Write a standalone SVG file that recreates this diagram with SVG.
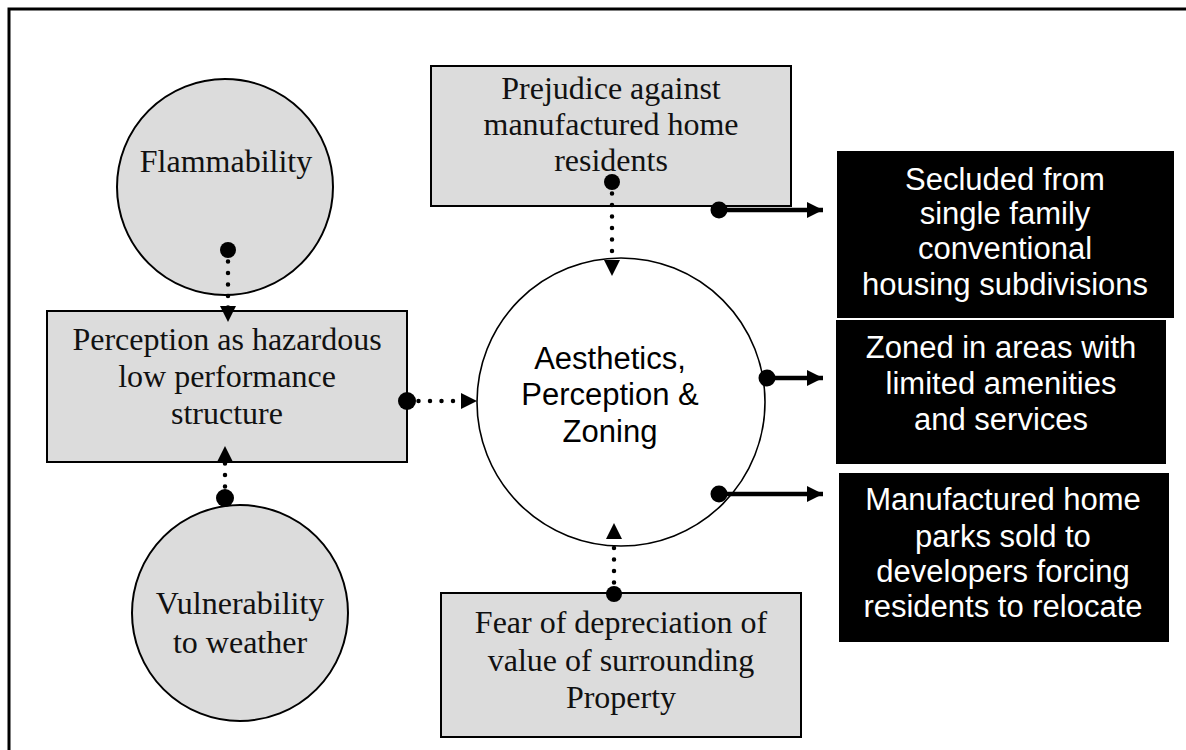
<svg xmlns="http://www.w3.org/2000/svg" width="1186" height="750" viewBox="0 0 1186 750">
<style>
.bg{fill:#ffffff}
.frame{fill:none;stroke:#000;stroke-width:3}
.gray{fill:#dcdcdc;stroke:#000;stroke-width:2}
.white{fill:#fff;stroke:#000;stroke-width:1.6}
.black{fill:#000;stroke:none}
.serif{font-family:"Liberation Serif","Times New Roman",serif;font-size:32px;fill:#111;text-anchor:middle}
.sans{font-family:"Liberation Sans",Arial,sans-serif;font-size:31px;fill:#000;text-anchor:middle}
.sansw{font-family:"Liberation Sans",Arial,sans-serif;font-size:31px;fill:#fff;text-anchor:middle}
.dotted{fill:none;stroke:#000;stroke-width:4.5;stroke-linecap:round;stroke-dasharray:0 11.5}
.solid{fill:none;stroke:#000;stroke-width:4.5}
</style>
<defs>
<marker id="arr" viewBox="0 0 16 16" refX="16" refY="8" markerWidth="16" markerHeight="16" markerUnits="userSpaceOnUse" orient="auto"><path d="M0,0 L16,8 L0,16 z" fill="#000"/></marker>
</defs>
<rect class="bg" x="0" y="0" width="1186" height="750"/>
<rect class="frame" x="9" y="9" width="1200" height="800"/>

<g id="flammability">
<circle class="gray" cx="225" cy="187" r="108"/>
<text class="serif" x="226" y="172">Flammability</text>
</g>
<g id="perception-box">
<rect class="gray" x="47" y="311" width="360" height="151"/>
<text class="serif" x="227" y="350">Perception as hazardous</text>
<text class="serif" x="227" y="387">low performance</text>
<text class="serif" x="227" y="424">structure</text>
</g>
<g id="vulnerability">
<circle class="gray" cx="240" cy="613" r="108"/>
<text class="serif" x="240" y="614">Vulnerability</text>
<text class="serif" x="240" y="653">to weather</text>
</g>
<g id="prejudice">
<rect class="gray" x="431" y="66" width="360" height="140"/>
<text class="serif" x="611" y="99">Prejudice against</text>
<text class="serif" x="611" y="135">manufactured home</text>
<text class="serif" x="611" y="171">residents</text>
</g>
<g id="center">
<circle class="white" cx="621" cy="402" r="144"/>
<text class="sans" x="610" y="369">Aesthetics,</text>
<text class="sans" x="610" y="405">Perception &amp;</text>
<text class="sans" x="610" y="442">Zoning</text>
</g>
<g id="fear">
<rect class="gray" x="441" y="593" width="360" height="144"/>
<text class="serif" x="621" y="633">Fear of depreciation of</text>
<text class="serif" x="621" y="671">value of surrounding</text>
<text class="serif" x="621" y="708">Property</text>
</g>
<g id="secluded">
<rect class="black" x="837" y="151" width="337" height="167"/>
<text class="sansw" x="1005" y="190">Secluded from</text>
<text class="sansw" x="1005" y="224">single family</text>
<text class="sansw" x="1005" y="259">conventional</text>
<text class="sansw" x="1005" y="295">housing subdivisions</text>
</g>
<g id="zoned">
<rect class="black" x="836" y="320" width="330" height="144"/>
<text class="sansw" x="1001" y="358">Zoned in areas with</text>
<text class="sansw" x="1001" y="394">limited amenities</text>
<text class="sansw" x="1001" y="430">and services</text>
</g>
<g id="parks">
<rect class="black" x="839" y="473" width="330" height="169"/>
<text class="sansw" x="1003" y="510">Manufactured home</text>
<text class="sansw" x="1003" y="547">parks sold to</text>
<text class="sansw" x="1003" y="582">developers forcing</text>
<text class="sansw" x="1003" y="617">residents to relocate</text>
</g>

<g id="connectors">
<path class="dotted" d="M228,250 L228,312"/>
<path d="M228,250 L228,322" fill="none" stroke="none" marker-end="url(#arr)"/>
<circle cx="228" cy="250" r="8"/>

<path class="dotted" d="M225,498 L225,452"/>
<path d="M225,498 L225,446" fill="none" stroke="none" marker-end="url(#arr)"/>
<circle cx="225" cy="498" r="9"/>

<path class="dotted" d="M407,401 L468,401"/>
<path d="M407,401 L477,401" fill="none" stroke="none" marker-end="url(#arr)"/>
<circle cx="407" cy="401" r="9"/>

<path class="dotted" d="M612,182 L612,266"/>
<path d="M612,182 L612,276" fill="none" stroke="none" marker-end="url(#arr)"/>
<circle cx="612" cy="182" r="8"/>

<path class="dotted" d="M614,594 L614,532"/>
<path d="M614,594 L614,523" fill="none" stroke="none" marker-end="url(#arr)"/>
<circle cx="614" cy="594" r="8"/>

<path class="solid" d="M719,210 L823,210" marker-end="url(#arr)"/>
<circle cx="719" cy="210" r="8.5"/>
<path class="solid" d="M767,378 L823,378" marker-end="url(#arr)"/>
<circle cx="767" cy="378" r="8.5"/>
<path class="solid" d="M719,494 L823,494" marker-end="url(#arr)"/>
<circle cx="719" cy="494" r="8.5"/>
</g>
</svg>
